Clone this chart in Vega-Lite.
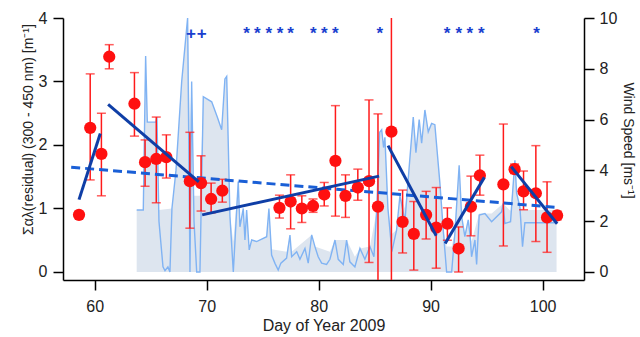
{
  "$schema": "https://vega.github.io/schema/vega-lite/v6.json",
  "width": 521,
  "height": 262,
  "autosize": "none",
  "padding": {"left": 63, "top": 18, "right": 56, "bottom": 57},
  "config": {
    "view": {"stroke": null},
    "font": "Liberation Sans",
    "axis": {
      "domainColor": "#000000",
      "domainWidth": 1.5,
      "tickColor": "#000000",
      "tickWidth": 1.5,
      "tickSize": 10,
      "labelFontSize": 16,
      "labelColor": "#222222",
      "titleFontSize": 15,
      "titleFontWeight": "normal",
      "titleColor": "#222222",
      "grid": false
    },
    "axisLeft": {"grid": true, "gridDash": [2, 3], "gridColor": "#a9a9e6", "gridWidth": 1, "labelPadding": 6, "titleFontSize": 14, "titlePadding": 3, "titleY": 111},
    "axisRight": {"labelPadding": 5, "titlePadding": 4, "titleFontSize": 14, "titleY": 122},
    "axisBottom": {"labelPadding": 8, "titlePadding": 3, "titleFontSize": 16}
  },
  "datasets": {
    "wind": [
      {"d": 63.75, "w": 2.44}, {"d": 64.34, "w": 2.44}, {"d": 64.55, "w": 8.5}, {"d": 64.7, "w": 5.9},
      {"d": 65.47, "w": 5.9}, {"d": 65.56, "w": 6.1}, {"d": 65.74, "w": 2.0}, {"d": 66.1, "w": 0.2},
      {"d": 66.28, "w": 0.05}, {"d": 66.54, "w": 0.2}, {"d": 66.72, "w": 0.0}, {"d": 66.9, "w": 2.5},
      {"d": 67.26, "w": 4.0}, {"d": 67.77, "w": 7.5}, {"d": 68.3, "w": 10.0}, {"d": 68.51, "w": 0.0},
      {"d": 68.66, "w": 7.5}, {"d": 68.87, "w": 2.0}, {"d": 69.11, "w": 0.0}, {"d": 69.4, "w": 0.0},
      {"d": 69.7, "w": 6.9}, {"d": 70.45, "w": 6.7}, {"d": 70.95, "w": 6.1}, {"d": 71.34, "w": 5.6},
      {"d": 71.63, "w": 7.6}, {"d": 71.79, "w": 7.7}, {"d": 72.08, "w": 2.2}, {"d": 72.38, "w": 0.0},
      {"d": 72.82, "w": 3.56}, {"d": 72.97, "w": 1.78}, {"d": 73.27, "w": 2.5}, {"d": 73.42, "w": 1.26},
      {"d": 73.57, "w": 2.44}, {"d": 73.8, "w": 0.87}, {"d": 74.02, "w": 1.26}, {"d": 74.46, "w": 1.2},
      {"d": 75.36, "w": 1.39}, {"d": 75.56, "w": 2.5}, {"d": 75.8, "w": 0.67}, {"d": 76.1, "w": 0.34},
      {"d": 76.39, "w": 0.08}, {"d": 76.63, "w": 0.35}, {"d": 77.14, "w": 0.55}, {"d": 77.44, "w": 1.45},
      {"d": 77.59, "w": 0.6}, {"d": 78.04, "w": 0.8}, {"d": 78.33, "w": 0.5}, {"d": 78.78, "w": 0.93},
      {"d": 79.07, "w": 0.35}, {"d": 79.38, "w": 1.46}, {"d": 79.67, "w": 1.0}, {"d": 79.96, "w": 0.6},
      {"d": 80.27, "w": 0.35}, {"d": 80.71, "w": 0.3}, {"d": 81.01, "w": 0.5}, {"d": 81.46, "w": 1.26},
      {"d": 81.75, "w": 0.5}, {"d": 82.2, "w": 0.3}, {"d": 82.5, "w": 1.26}, {"d": 82.79, "w": 0.4},
      {"d": 83.24, "w": 0.2}, {"d": 83.69, "w": 0.93}, {"d": 84.13, "w": 0.5}, {"d": 84.58, "w": 1.0},
      {"d": 84.94, "w": 0.6}, {"d": 85.18, "w": 2.4}, {"d": 85.45, "w": 5.5}, {"d": 85.63, "w": 5.6},
      {"d": 85.8, "w": 4.9}, {"d": 85.92, "w": 5.3}, {"d": 86.19, "w": 2.5}, {"d": 86.54, "w": 0.8},
      {"d": 86.96, "w": 1.65}, {"d": 87.26, "w": 3.0}, {"d": 87.71, "w": 2.0}, {"d": 87.97, "w": 3.5},
      {"d": 88.45, "w": 6.1}, {"d": 88.69, "w": 4.7}, {"d": 88.98, "w": 6.0}, {"d": 89.2, "w": 5.07},
      {"d": 89.49, "w": 6.38}, {"d": 89.79, "w": 5.52}, {"d": 90.09, "w": 5.85}, {"d": 90.38, "w": 5.8},
      {"d": 90.83, "w": 3.5}, {"d": 91.13, "w": 1.65}, {"d": 91.43, "w": 0.0}, {"d": 91.88, "w": 0.0},
      {"d": 92.17, "w": 1.54}, {"d": 92.55, "w": 4.2}, {"d": 92.77, "w": 2.2}, {"d": 93.06, "w": 1.39},
      {"d": 93.36, "w": 2.05}, {"d": 93.51, "w": 1.52}, {"d": 93.66, "w": 0.6}, {"d": 93.96, "w": 1.26},
      {"d": 94.11, "w": 0.3}, {"d": 94.34, "w": 2.24}, {"d": 94.85, "w": 2.3}, {"d": 95.45, "w": 1.98},
      {"d": 96.34, "w": 2.37}, {"d": 96.48, "w": 2.7}, {"d": 96.63, "w": 1.91}, {"d": 97.14, "w": 1.98},
      {"d": 97.53, "w": 4.4}, {"d": 97.68, "w": 3.1}, {"d": 97.97, "w": 2.57}, {"d": 98.21, "w": 1.0},
      {"d": 98.42, "w": 1.94}, {"d": 101.25, "w": 1.94}
    ],
    "windfill": [
      {"d": 63.75, "w": 2.44}, {"d": 64.34, "w": 2.44}, {"d": 64.55, "w": 8.5}, {"d": 64.7, "w": 5.9},
      {"d": 65.47, "w": 5.9}, {"d": 65.56, "w": 6.1}, {"d": 65.74, "w": 2.44}, {"d": 66.9, "w": 2.5},
      {"d": 67.26, "w": 4.0}, {"d": 67.77, "w": 7.5}, {"d": 68.3, "w": 10.0}, {"d": 68.51, "w": 6.0},
      {"d": 68.66, "w": 7.5}, {"d": 68.87, "w": 3.0}, {"d": 69.4, "w": 3.0}, {"d": 69.7, "w": 6.9},
      {"d": 70.45, "w": 6.7}, {"d": 70.95, "w": 6.1}, {"d": 71.34, "w": 5.6}, {"d": 71.63, "w": 7.6},
      {"d": 71.79, "w": 7.7}, {"d": 72.08, "w": 2.2}, {"d": 72.38, "w": 1.2}, {"d": 72.82, "w": 3.56},
      {"d": 72.97, "w": 1.78}, {"d": 73.27, "w": 2.5}, {"d": 73.42, "w": 1.26}, {"d": 73.57, "w": 2.44},
      {"d": 73.8, "w": 0.9}, {"d": 74.02, "w": 1.26}, {"d": 74.46, "w": 1.2}, {"d": 75.36, "w": 1.39},
      {"d": 75.56, "w": 2.5}, {"d": 75.8, "w": 0.9}, {"d": 77.14, "w": 0.8}, {"d": 77.44, "w": 1.45},
      {"d": 77.59, "w": 0.8}, {"d": 79.38, "w": 1.46}, {"d": 79.67, "w": 1.0}, {"d": 81.01, "w": 0.8},
      {"d": 81.46, "w": 1.26}, {"d": 82.5, "w": 1.26}, {"d": 83.24, "w": 0.6}, {"d": 83.69, "w": 0.93},
      {"d": 84.58, "w": 1.0},
      {"d": 85.18, "w": 2.4}, {"d": 85.45, "w": 5.5}, {"d": 85.63, "w": 5.6}, {"d": 85.8, "w": 4.9},
      {"d": 85.92, "w": 5.3}, {"d": 86.19, "w": 2.5}, {"d": 86.54, "w": 1.5}, {"d": 86.96, "w": 1.65},
      {"d": 87.26, "w": 3.0}, {"d": 87.71, "w": 2.5}, {"d": 87.97, "w": 3.5}, {"d": 88.45, "w": 6.1},
      {"d": 88.69, "w": 4.7}, {"d": 88.98, "w": 6.0}, {"d": 89.2, "w": 5.07}, {"d": 89.49, "w": 6.38},
      {"d": 89.79, "w": 5.52}, {"d": 90.09, "w": 5.85}, {"d": 90.38, "w": 5.8}, {"d": 90.83, "w": 3.5},
      {"d": 91.13, "w": 1.65}, {"d": 91.43, "w": 1.0}, {"d": 91.88, "w": 1.0}, {"d": 92.17, "w": 1.54},
      {"d": 92.55, "w": 4.2}, {"d": 92.77, "w": 2.2}, {"d": 93.06, "w": 1.5}, {"d": 93.36, "w": 2.05},
      {"d": 93.66, "w": 1.2}, {"d": 94.34, "w": 2.3}, {"d": 95.45, "w": 2.3}, {"d": 96.48, "w": 2.7},
      {"d": 97.14, "w": 2.4}, {"d": 97.53, "w": 4.4}, {"d": 97.68, "w": 3.1}, {"d": 97.97, "w": 2.57},
      {"d": 98.21, "w": 2.44}, {"d": 101.25, "w": 2.44}
    ],
    "alpha": [
      {"d": 58.6, "v": 0.9, "lo": 0.9, "hi": 0.9},
      {"d": 59.6, "v": 2.27, "lo": 1.45, "hi": 3.12},
      {"d": 60.6, "v": 1.86, "lo": 1.2, "hi": 2.5},
      {"d": 61.3, "v": 3.39, "lo": 3.2, "hi": 3.58},
      {"d": 63.55, "v": 2.65, "lo": 2.14, "hi": 3.14},
      {"d": 64.5, "v": 1.73, "lo": 1.35, "hi": 2.08},
      {"d": 65.5, "v": 1.78, "lo": 1.09, "hi": 2.44},
      {"d": 66.4, "v": 1.81, "lo": 1.48, "hi": 2.16},
      {"d": 68.5, "v": 1.43, "lo": 0.69, "hi": 2.2},
      {"d": 69.5, "v": 1.4, "lo": 0.96, "hi": 1.83},
      {"d": 70.4, "v": 1.15, "lo": 0.93, "hi": 1.4},
      {"d": 71.4, "v": 1.28, "lo": 1.1, "hi": 1.46},
      {"d": 76.5, "v": 1.01, "lo": 0.85, "hi": 1.21},
      {"d": 77.5, "v": 1.11, "lo": 0.68, "hi": 1.53},
      {"d": 78.5, "v": 1.0, "lo": 0.78, "hi": 1.2},
      {"d": 79.5, "v": 1.04, "lo": 0.94, "hi": 1.15},
      {"d": 80.5, "v": 1.22, "lo": 1.04, "hi": 1.41},
      {"d": 81.5, "v": 1.75, "lo": 0.88, "hi": 2.62},
      {"d": 82.4, "v": 1.2, "lo": 0.86, "hi": 1.53},
      {"d": 83.5, "v": 1.33, "lo": 1.13, "hi": 1.62},
      {"d": 84.5, "v": 1.43, "lo": 0.15, "hi": 2.71},
      {"d": 85.3, "v": 1.03, "lo": -0.5, "hi": 2.49},
      {"d": 86.5, "v": 2.21, "lo": -0.5, "hi": 5.0},
      {"d": 87.5, "v": 0.79, "lo": 0.3, "hi": 1.29},
      {"d": 88.5, "v": 0.6, "lo": 0.03, "hi": 1.11},
      {"d": 89.6, "v": 0.9, "lo": 0.52, "hi": 1.27},
      {"d": 90.5, "v": 0.7, "lo": 0.06, "hi": 1.33},
      {"d": 91.5, "v": 0.76, "lo": 0.5, "hi": 1.01},
      {"d": 92.5, "v": 0.37, "lo": 0.0, "hi": 0.71},
      {"d": 93.6, "v": 1.03, "lo": 0.57, "hi": 1.51},
      {"d": 94.4, "v": 1.52, "lo": 1.21, "hi": 1.84},
      {"d": 96.5, "v": 1.38, "lo": 0.41, "hi": 2.33},
      {"d": 97.5, "v": 1.62, "lo": 1.55, "hi": 1.7},
      {"d": 98.3, "v": 1.27, "lo": 0.98, "hi": 1.59},
      {"d": 99.4, "v": 1.24, "lo": 0.48, "hi": 1.99},
      {"d": 100.4, "v": 0.86, "lo": 0.31, "hi": 1.42},
      {"d": 101.3, "v": 0.89, "lo": 0.82, "hi": 0.96}
    ],
    "trends": [
      {"x1": 58.6, "y1": 1.14, "x2": 60.5, "y2": 2.18},
      {"x1": 61.2, "y1": 2.64, "x2": 69.3, "y2": 1.42},
      {"x1": 69.6, "y1": 0.9, "x2": 85.4, "y2": 1.51},
      {"x1": 86.2, "y1": 1.99, "x2": 90.5, "y2": 0.57},
      {"x1": 91.3, "y1": 0.45, "x2": 94.8, "y2": 1.49},
      {"x1": 97.2, "y1": 1.66, "x2": 101.3, "y2": 0.76}
    ],
    "overall": [
      {"x1": 57.9, "y1": 1.65, "x2": 101.1, "y2": 1.02}
    ],
    "marks": [
      {"d": 68.6, "sym": "+"}, {"d": 69.55, "sym": "+"},
      {"d": 73.57, "sym": "*"}, {"d": 74.52, "sym": "*"}, {"d": 75.54, "sym": "*"}, {"d": 76.55, "sym": "*"}, {"d": 77.5, "sym": "*"},
      {"d": 79.52, "sym": "*"}, {"d": 80.5, "sym": "*"}, {"d": 81.5, "sym": "*"},
      {"d": 85.47, "sym": "*"},
      {"d": 91.48, "sym": "*"}, {"d": 92.53, "sym": "*"}, {"d": 93.51, "sym": "*"}, {"d": 94.52, "sym": "*"},
      {"d": 99.46, "sym": "*"}
    ]
  },
  "layer": [
    {
      "layer": [
        {
          "data": {"name": "windfill"},
          "mark": {"type": "area", "color": "#dde5ef", "clip": true},
          "encoding": {
            "x": {"field": "d", "type": "quantitative", "scale": {"domain": [57.17, 103.7], "nice": false, "zero": false}, "axis": {"values": [60, 70, 80, 90, 100], "title": "Day of Year 2009"}},
            "y": {"field": "w", "type": "quantitative", "scale": {"domain": [-0.315, 10], "nice": false, "zero": false}, "axis": {"orient": "right", "values": [0, 2, 4, 6, 8, 10], "format": "d", "title": "Wind Speed [ms⁻¹]"}}
          }
        },
        {
          "data": {"name": "wind"},
          "mark": {"type": "line", "color": "#80b3f3", "strokeWidth": 1.4, "clip": true},
          "encoding": {
            "x": {"field": "d", "type": "quantitative", "scale": {"domain": [57.17, 103.7], "nice": false, "zero": false}},
            "y": {"field": "w", "type": "quantitative", "scale": {"domain": [-0.315, 10], "nice": false, "zero": false}, "axis": {"orient": "right", "values": [0, 2, 4, 6, 8, 10], "format": "d", "title": "Wind Speed [ms⁻¹]"}}
          }
        }
      ]
    },
    {
      "layer": [
        {
          "data": {"name": "alpha"},
          "mark": {"type": "errorbar", "color": "#ff1a1a", "thickness": 1.5, "clip": true, "ticks": {"size": 9, "thickness": 1.5, "color": "#ff1a1a"}},
          "encoding": {
            "x": {"field": "d", "type": "quantitative", "scale": {"domain": [57.17, 103.7], "nice": false, "zero": false}},
            "y": {"field": "lo", "type": "quantitative", "scale": {"domain": [-0.126, 4], "nice": false, "zero": false}, "axis": {"orient": "left", "values": [0, 1, 2, 3, 4], "format": "d", "titlePadding": 3, "title": "Σαλ(residual) (300 - 450 nm) [m⁻¹]"}},
            "y2": {"field": "hi"}
          }
        },
        {
          "data": {"name": "overall"},
          "mark": {"type": "rule", "color": "#1a5fd6", "strokeWidth": 3, "strokeDash": [9, 5]},
          "encoding": {
            "x": {"field": "x1", "type": "quantitative", "scale": {"domain": [57.17, 103.7], "nice": false, "zero": false}},
            "y": {"field": "y1", "type": "quantitative", "scale": {"domain": [-0.126, 4], "nice": false, "zero": false}, "axis": {"orient": "left", "values": [0, 1, 2, 3, 4], "format": "d", "titlePadding": 3, "title": "Σαλ(residual) (300 - 450 nm) [m⁻¹]"}},
            "x2": {"field": "x2"},
            "y2": {"field": "y2"}
          }
        },
        {
          "data": {"name": "alpha"},
          "mark": {"type": "circle", "color": "#ff1010", "opacity": 1, "size": 150},
          "encoding": {
            "x": {"field": "d", "type": "quantitative", "scale": {"domain": [57.17, 103.7], "nice": false, "zero": false}},
            "y": {"field": "v", "type": "quantitative", "scale": {"domain": [-0.126, 4], "nice": false, "zero": false}, "axis": {"orient": "left", "values": [0, 1, 2, 3, 4], "format": "d", "titlePadding": 3, "title": "Σαλ(residual) (300 - 450 nm) [m⁻¹]"}}
          }
        },
        {
          "data": {"name": "trends"},
          "mark": {"type": "rule", "color": "#0f3ea6", "strokeWidth": 3},
          "encoding": {
            "x": {"field": "x1", "type": "quantitative", "scale": {"domain": [57.17, 103.7], "nice": false, "zero": false}},
            "y": {"field": "y1", "type": "quantitative", "scale": {"domain": [-0.126, 4], "nice": false, "zero": false}, "axis": {"orient": "left", "values": [0, 1, 2, 3, 4], "format": "d", "titlePadding": 3, "title": "Σαλ(residual) (300 - 450 nm) [m⁻¹]"}},
            "x2": {"field": "x2"},
            "y2": {"field": "y2"}
          }
        },
        {
          "data": {"name": "marks"},
          "mark": {"type": "text", "color": "#1a3fcf", "fontSize": 17, "fontWeight": "bold", "baseline": "middle", "align": "center"},
          "encoding": {
            "x": {"field": "d", "type": "quantitative", "scale": {"domain": [57.17, 103.7], "nice": false, "zero": false}},
            "y": {"datum": 3.75, "type": "quantitative", "scale": {"domain": [-0.126, 4], "nice": false, "zero": false}},
            "text": {"field": "sym"}
          }
        }
      ]
    }
  ],
  "resolve": {"scale": {"y": "independent"}, "axis": {"y": "independent"}}
}
